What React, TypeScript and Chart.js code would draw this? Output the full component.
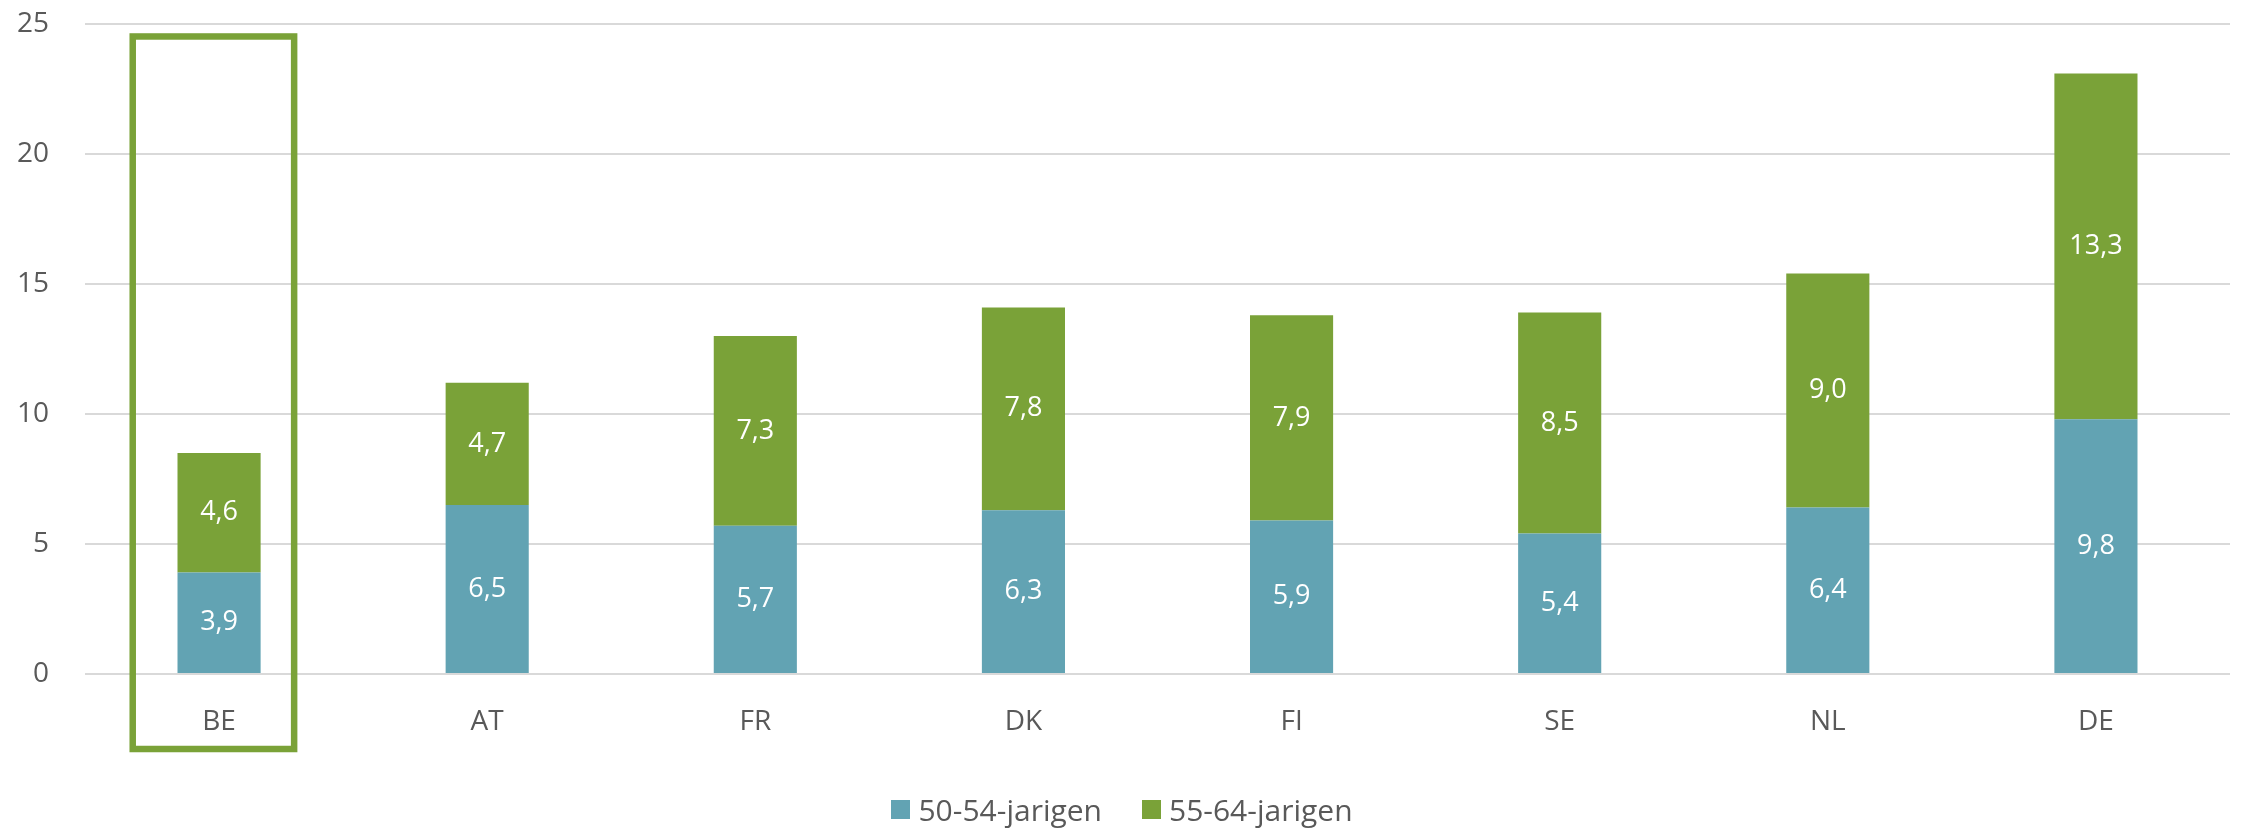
import React, { useEffect, useRef } from "react";
import { Chart, registerables } from "chart.js";

Chart.register(...registerables);

const categories = ["BE", "AT", "FR", "DK", "FI", "SE", "NL", "DE"];
const series5054 = [3.9, 6.5, 5.7, 6.3, 5.9, 5.4, 6.4, 9.8];
const series5564 = [4.6, 4.7, 7.3, 7.8, 7.9, 8.5, 9.0, 13.3];
const seriesNames = ["50-54-jarigen", "55-64-jarigen"];
const yTicks = [0, 5, 10, 15, 20, 25];
const highlighted = "BE";

const TEAL = "#62A3B3";
const GREEN = "#7AA238";
const TEXT = "#595959";
const FONT = "'Open Sans', 'Noto Sans', sans-serif";
const seriesColors = [TEAL, GREEN];

const labelPlugin = {
  id: "barLabels",
  afterDatasetsDraw(chart: any) {
    const ctx = chart.ctx;
    ctx.save();
    ctx.fillStyle = "#ffffff";
    ctx.font = `27px ${FONT}`;
    ctx.textAlign = "center";
    ctx.textBaseline = "middle";
    chart.data.datasets.forEach((ds: any, di: number) => {
      const meta = chart.getDatasetMeta(di);
      meta.data.forEach((bar: any, i: number) => {
        const v = ds.data[i];
        const { x, y, base } = bar.getProps(["x", "y", "base"], true);
        ctx.fillText(v.toFixed(1).replace(".", ","), x, (y + base) / 2);
      });
    });
    ctx.restore();
  },
};

const boxPlugin = {
  id: "highlightBox",
  afterDraw(chart: any) {
    const idx = categories.indexOf(highlighted);
    if (idx < 0) return;
    const xs = chart.scales.x;
    const ys = chart.scales.y;
    const cx = xs.getPixelForValue(idx);
    const cw = xs.width / categories.length;
    const left = cx - cw * 0.322;
    const right = cx + cw * 0.28;
    const top = ys.getPixelForValue(24.52);
    const bottom = chart.chartArea.bottom + 75;
    const ctx = chart.ctx;
    ctx.save();
    ctx.strokeStyle = GREEN;
    ctx.lineWidth = 6.5;
    ctx.strokeRect(left, top, right - left, bottom - top);
    ctx.restore();
  },
};

export default function App() {
  const ref = useRef<HTMLCanvasElement>(null);
  useEffect(() => {
    document.body.style.margin = "0";
    const chart = new Chart(ref.current!, {
      type: "bar",
      data: {
        labels: categories,
        datasets: [
          { label: seriesNames[0], data: series5054, backgroundColor: TEAL, barPercentage: 0.62, categoryPercentage: 0.5 },
          { label: seriesNames[1], data: series5564, backgroundColor: GREEN, barPercentage: 0.62, categoryPercentage: 0.5 },
        ],
      },
      options: {
        responsive: false,
        animation: false,
        layout: { padding: { top: 24, right: 14, left: 0, bottom: 0 } },
        plugins: {
          legend: { display: false },
          tooltip: { enabled: false },
        },
        scales: {
          x: {
            stacked: true,
            grid: { display: false, drawTicks: true, tickLength: 8 },
            border: { display: false },
            ticks: { font: { family: FONT, size: 28 }, color: TEXT, padding: 23 },
            afterFit: (s: any) => {
              s.height = 155;
            },
          },
          y: {
            stacked: true,
            min: 0,
            max: 25,
            afterBuildTicks: (s: any) => {
              s.ticks = yTicks.map((v) => ({ value: v }));
            },
            afterFit: (s: any) => {
              s.width = 85;
            },
            grid: { color: "#D9D9D9", lineWidth: 2, drawTicks: true, tickLength: 36, tickColor: "rgba(0,0,0,0)" },
            border: { display: false },
            ticks: { font: { family: FONT, size: 28 }, color: TEXT, padding: 0 },
          },
        },
      },
      plugins: [labelPlugin, boxPlugin],
    });
    return () => chart.destroy();
  }, []);
  return (
    <div style={{ position: "absolute", left: 0, top: 0, width: 2244, height: 829 }}>
      <canvas ref={ref} width={2244} height={829} style={{ display: "block" }} />
      <div
        style={{
          position: "absolute",
          left: 0,
          top: 789,
          width: 2244,
          height: 40,
          display: "flex",
          justifyContent: "center",
          alignItems: "center",
          gap: 40,
          fontFamily: FONT,
          fontSize: 30,
          color: TEXT,
        }}
      >
        {seriesNames.map((n, i) => (
          <div key={n} style={{ display: "flex", alignItems: "center" }}>
            <span style={{ display: "inline-block", width: 19, height: 19, background: seriesColors[i], marginRight: 8 }} />
            <span>{n}</span>
          </div>
        ))}
      </div>
    </div>
  );
}
